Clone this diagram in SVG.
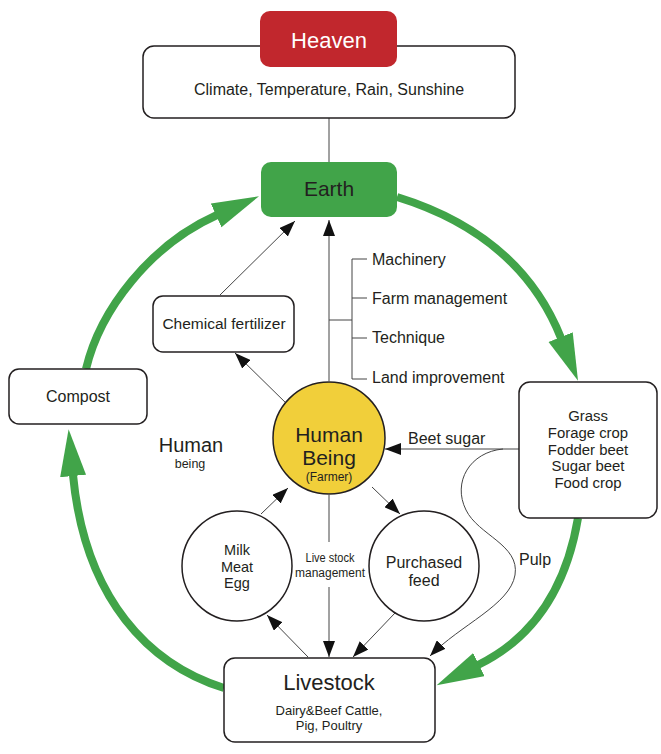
<svg xmlns="http://www.w3.org/2000/svg" width="661" height="754" viewBox="0 0 661 754">
<style>
text{font-family:"Liberation Sans",Arial,sans-serif;fill:#231f20}
.box{fill:#fff;stroke:#231f20;stroke-width:1.5}
.ln{fill:none;stroke:#444;stroke-width:1}
.arr{fill:none;stroke:#444;stroke-width:1;marker-end:url(#ah)}
.g{fill:none;stroke:#41a449;stroke-width:8;marker-end:url(#gh)}
.m{text-anchor:middle}
</style>
<defs>
<marker id="ah" markerUnits="userSpaceOnUse" markerWidth="17" markerHeight="12" refX="16" refY="6" orient="auto"><path d="M0,0 L16,6 L0,12 z" fill="#111"/></marker>
<marker id="gh" markerUnits="userSpaceOnUse" markerWidth="48" markerHeight="28" refX="1" refY="13" orient="auto"><path d="M0,0 L47,13 L0,26 z" fill="#41a449"/></marker>
</defs>
<g id="connectors">
<line class="ln" x1="329" y1="118" x2="329" y2="163"/>
<path class="g" d="M86,369 C100,310 150,245 217,215"/>
<path class="g" d="M397,197 Q520,235 561,338"/>
<path class="g" d="M224,688 C150,665 85,600 73,475"/>
<path class="g" d="M578,518 Q560,625 478,665"/>
<line class="arr" x1="220" y1="295" x2="295" y2="221"/>
<line class="arr" x1="329" y1="381" x2="329" y2="220"/>
<path class="ln" d="M329,320 H352 M352,259 V379 M352,259 H367 M352,298 H367 M352,338 H367 M352,379 H367"/>
<line class="arr" x1="290" y1="407" x2="235" y2="353"/>
<line class="arr" x1="519" y1="449" x2="385" y2="449"/>
<path class="arr" d="M503,449 C470,452 452,482 466,510 C478,535 520,545 515,575 C510,605 460,625 430,656"/>
<line class="arr" x1="261" y1="514" x2="288" y2="488"/>
<line class="arr" x1="372" y1="487" x2="400" y2="514"/>
<line class="ln" x1="329" y1="495" x2="329" y2="542"/>
<line class="arr" x1="329" y1="587" x2="329" y2="657"/>
<line class="arr" x1="308" y1="657" x2="267" y2="615"/>
<line class="arr" x1="395" y1="613" x2="353" y2="657"/>
</g>
<g id="climate">
<rect class="box" x="143" y="46" width="372" height="72" rx="11"/>
<text class="m" x="329" y="95" font-size="16">Climate, Temperature, Rain, Sunshine</text>
</g>
<g id="heaven">
<rect x="260" y="11" width="137" height="56" rx="10" fill="#c1272d"/>
<text class="m" x="329" y="48" font-size="22" style="fill:#fff">Heaven</text>
</g>
<g id="earth">
<rect x="261" y="162" width="136" height="55" rx="10" fill="#41a449"/>
<text class="m" x="329" y="196" font-size="21">Earth</text>
</g>
<g id="bracket-labels">
<text x="372" y="265" font-size="16">Machinery</text>
<text x="372" y="304" font-size="16">Farm management</text>
<text x="372" y="343" font-size="16">Technique</text>
<text x="372" y="383" font-size="16">Land improvement</text>
</g>
<g id="chemical">
<rect class="box" x="153" y="296" width="141" height="56" rx="10"/>
<text class="m" x="224" y="329" font-size="15.5">Chemical fertilizer</text>
</g>
<g id="compost">
<rect class="box" x="9" y="369" width="138" height="55" rx="10"/>
<text class="m" x="78" y="402" font-size="16">Compost</text>
</g>
<g id="human-label">
<text class="m" font-size="20"><tspan x="191" y="452">Human</tspan><tspan x="190" y="468" font-size="12.5">being</tspan></text>
</g>
<g id="human">
<circle cx="329" cy="438" r="56" fill="#f1cf3a" stroke="#231f20" stroke-width="1.5"/>
<text class="m" font-size="21"><tspan x="329" y="441.5">Human</tspan><tspan x="329" y="465">Being</tspan><tspan x="329" y="481" font-size="12">(Farmer)</tspan></text>
</g>
<g id="beet-label">
<text x="408" y="444" font-size="16">Beet sugar</text>
</g>
<g id="crops">
<rect class="box" x="519" y="382" width="138" height="136" rx="11"/>
<text class="m" font-size="14.9"><tspan x="588" y="421">Grass</tspan><tspan x="588" y="437.75">Forage crop</tspan><tspan x="588" y="454.5">Fodder beet</tspan><tspan x="588" y="471.25">Sugar beet</tspan><tspan x="588" y="488">Food crop</tspan></text>
</g>
<g id="pulp-label">
<text x="519" y="565" font-size="16">Pulp</text>
</g>
<g id="milk">
<circle class="box" cx="237" cy="566" r="55"/>
<text class="m" font-size="14.5"><tspan x="237" y="555">Milk</tspan><tspan x="237" y="571.5">Meat</tspan><tspan x="237" y="588">Egg</tspan></text>
</g>
<g id="management-label">
<text class="m" font-size="12.5"><tspan x="330" y="562" textLength="49" lengthAdjust="spacingAndGlyphs">Live stock</tspan><tspan x="330" y="576.5" textLength="70" lengthAdjust="spacingAndGlyphs">management</tspan></text>
</g>
<g id="feed">
<circle class="box" cx="424" cy="566" r="55"/>
<text class="m" font-size="16"><tspan x="424" y="568">Purchased</tspan><tspan x="424" y="586">feed</tspan></text>
</g>
<g id="livestock">
<rect class="box" x="224" y="658" width="211" height="84" rx="11"/>
<text class="m" x="329" y="690" font-size="22">Livestock</text>
<text class="m" font-size="13"><tspan x="329" y="715">Dairy&amp;Beef Cattle,</tspan><tspan x="329" y="730">Pig, Poultry</tspan></text>
</g>
</svg>
